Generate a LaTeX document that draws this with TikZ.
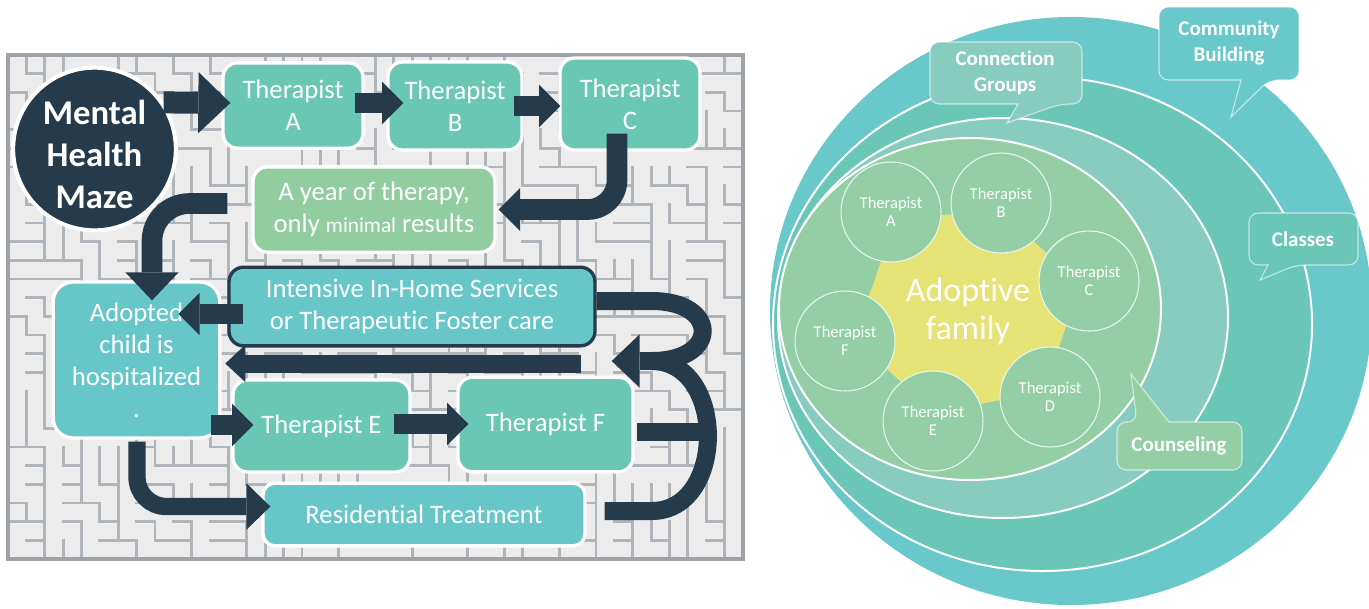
\documentclass[tikz,border=0pt]{standalone}
\usepackage{fontspec}
\setmainfont{Carlito}[Ligatures=NoCommon]
\usetikzlibrary{arrows.meta,calc}
\definecolor{navy}{RGB}{37,58,74}
\definecolor{mazebg}{RGB}{236,236,236}
\definecolor{mazegray}{RGB}{176,181,188}
\definecolor{therteal}{RGB}{105,199,179}
\definecolor{boxcyan}{RGB}{103,199,200}
\definecolor{yeargreen}{RGB}{146,205,159}
\definecolor{ringout}{RGB}{104,200,202}
\definecolor{ringtwo}{RGB}{106,198,182}
\definecolor{ringmid}{RGB}{136,203,191}
\definecolor{ringin}{RGB}{147,206,165}
\definecolor{famyellow}{RGB}{230,227,118}

\begin{document}
\begin{tikzpicture}[x=0.75pt, y=-0.75pt,
  mazewall/.style={draw=mazegray, line width=2.2pt, line cap=rect},
  leftbox/.style={draw=white, line width=2.5pt, rounded corners=11pt, text=white, align=center, inner sep=0pt, font=\fontsize{20}{24}\selectfont},
  therbox/.style={leftbox, fill=therteal},
  cyanbox/.style={leftbox, fill=boxcyan},
  flow/.style={draw=navy, line width=15.5pt, -{Triangle[length=16pt, width=32pt, line width=0pt]}},
  bigflow/.style={flow, line width=16.5pt, -{Triangle[length=24pt, width=46pt, line width=0pt]}},
  midflow/.style={flow, -{Triangle[length=21pt, width=40pt, line width=0pt]}},
  trunk/.style={draw=navy, line width=13.5pt},
  ring/.style={draw=white, line width=1.5pt},
  famcircle/.style={circle, draw=white!80!ringin, line width=0.8pt, fill=ringin, minimum size=75pt, inner sep=0pt, text=white, align=center, font=\fontsize{12.4}{13.5}\selectfont},
  bubble/.style={draw=white, draw opacity=0.6, line width=0.8pt, rounded corners=7pt},
  bubbletext/.style={text=white, align=center, font=\bfseries\fontsize{15.7}{19.5}\selectfont}
]
\useasboundingbox (0,0) rectangle (1369,608);

% Maze background
\fill[mazebg] (8,55) rectangle (743,559);
\pgfmathsetseed{12}
\foreach \i in {0,...,39} {
  \foreach \j in {0,...,26} {
    \pgfmathrandominteger{\mz}{0}{1}
    \ifnum\mz=0
      \ifnum\j>0 \draw[mazewall] ({8+18.375*\i},{55+18.667*\j}) -- ++(18.375,0); \fi
    \else
      \ifnum\i>0 \draw[mazewall] ({8+18.375*\i},{55+18.667*\j}) -- ++(0,18.667); \fi
    \fi
  }
}
\draw[draw=mazegray!90!black, line width=3pt] (8,55) rectangle (743,559);

% Maze boxes
\node[circle, fill=navy, draw=white, line width=3pt, minimum size=122pt, inner sep=0pt] (mhm) at (94.5,149) {};
\node[text=white, align=center, font=\bfseries\fontsize{26}{31.5}\selectfont] (mhmtext) at (94.5,154) {Mental\\Health\\Maze};
\node[therbox, minimum width=105pt, minimum height=64pt] (tA) at (293,105.5) {Therapist\\A};
\node[therbox, minimum width=100.5pt, minimum height=66pt] (tB) at (455,106) {Therapist\\B};
\node[therbox, minimum width=105pt, minimum height=69pt] (tC) at (630,104) {Therapist\\C};
\node[leftbox, fill=yeargreen, minimum width=181.5pt, minimum height=64pt] (year) at (374,209.5) {A year of therapy,\\only {\fontsize{16}{24}\selectfont minimal} results};
\node[cyanbox, rounded corners=15pt, minimum width=125pt, minimum height=117pt] (adopted) at (136.5,360) {Adopted\\child is\\hospitalized\\.};
\node[cyanbox, draw=navy, minimum width=274.5pt, minimum height=59pt] (intensive) at (412,306.5) {Intensive In-Home Services\\or Therapeutic Foster care};
\node[therbox, minimum width=132.75pt, minimum height=69pt] (tE) at (321.5,426) {Therapist E};
\node[therbox, minimum width=131.25pt, minimum height=71pt] (tF) at (545.5,424.5) {Therapist F};
\node[cyanbox, rounded corners=9pt, minimum width=241.5pt, minimum height=47pt] (resid) at (424,514.5) {Residential Treatment};

% Top row arrows
\draw[bigflow] (mhm.34) -- ($(tA.west)+(9,-2.5)$);
\draw[flow] ($(tA.east)+(-10,-2.5)$) -- ($(tB.west)+(17,-3)$);
\draw[flow] ($(tB.east)+(-10,0)$) -- ($(tC.west)+(2,2)$);

% Down and back
\coordinate (cdrop) at ($(tC.south)+(-13,-18)$);
\draw[flow, rounded corners=22pt] (cdrop) -- (cdrop |- year.east) -- ($(year.east)+(2,0)$);
\coordinate (ystart) at ($(year.west)+(-24,-6)$);
\coordinate (aTop) at ($(adopted.north)+(15.5,20)$);
\draw[midflow, rounded corners=28pt] (ystart) -- (ystart -| aTop) -- (aTop);

% Into the hospital
\draw[flow] ($(intensive.west)+(16,7.5)$) -- ($(intensive.west)+(-49,7.5)$);
\draw[flow, line width=13.5pt, -{Triangle[length=15pt, width=28pt, line width=0pt]}] ($(intensive.south east)+(-16,16)$) -- ($(intensive.south west)+(-2,16)$);

% B-shaped return
\coordinate (bjoin) at ($(intensive.east)+(55,54.5)$);
\draw[trunk] ($(intensive.east)+(0,-5.5)$) -- ++(55,0) .. controls +(68,0) and +(68,0) .. (bjoin);
\draw[trunk] ($(resid.east)+(18,-3.5)$) -- ++(47,0) .. controls +(75,0) and +(75,0) .. (bjoin);
\draw[trunk] ($(tF.east)+(2,7.5)$) -- ++(68,0);
\draw[midflow, line width=13.5pt] (bjoin) -- ($(bjoin)+(-40,0)$);

% Out of the hospital
\draw[flow] ($(tE.west)+(-20,-1)$) -- ($(tE.west)+(22,-1)$);
\draw[flow] ($(tE.east)+(-18,-2)$) -- ($(tF.west)+(12,-0.5)$);
\coordinate (adrop) at ($(adopted.south)+(0.5,2)$);
\coordinate (rTip) at ($(resid.west)+(9,-8)$);
\draw[flow, line width=13pt, -{Triangle[length=18pt, width=35pt, line width=0pt]}, rounded corners=22pt] (adrop) -- (adrop |- rTip) -- (rTip);

% Rings
\fill[ringout] (1071,311) ellipse [x radius=301, y radius=294];
\filldraw[ring, fill=ringtwo] (1042.5,324) ellipse [x radius=269.5, y radius=247];
\filldraw[ring, fill=ringmid] (1003,318) ellipse [x radius=225, y radius=200];
\filldraw[ring, fill=ringin] (970,309) ellipse [x radius=191, y radius=171];

% Family and therapists
\coordinate (fam) at (968,310);
\coordinate (cA) at (891,212);
\coordinate (cB) at (1001,203);
\coordinate (cC) at (1089,281);
\coordinate (cD) at (1050,397);
\coordinate (cE) at (933,421);
\coordinate (cF) at (845,341);
\fill[famyellow] ($(fam)!0.93!(cA)$) -- ($(fam)!0.93!(cB)$) -- ($(fam)!0.93!(cC)$) -- ($(fam)!0.93!(cD)$) -- ($(fam)!0.93!(cE)$) -- ($(fam)!0.93!(cF)$) -- cycle;
\foreach \t in {A,B,C,D,E,F}
  \node[famcircle] (th\t) at (c\t) {Therapist\\\t};
\node[text=white, align=center, font=\fontsize{25.5}{28.5}\selectfont] (famlabel) at (968,311) {Adoptive\\family};

% Callouts
\filldraw[bubble, fill=ringmid] (930,73) -- (930,42) -- (1082,42) -- (1082,104) -- (1060,104) [sharp corners] -- (1007,123) -- (1018,104) [rounded corners=7pt] -- (930,104) -- cycle;
\node[bubbletext] (conn) at (1005,73) {Connection\\Groups};
\filldraw[bubble, fill=ringout] (1159,44) -- (1159,7) -- (1299,7) -- (1299,80) -- (1269,80) [sharp corners] -- (1231,117) -- (1241,80) [rounded corners=7pt] -- (1159,80) -- cycle;
\node[bubbletext] (comm) at (1229,43) {Community\\Building};
\filldraw[bubble, fill=ringtwo] (1249,239) -- (1249,213) -- (1358,213) -- (1358,265) -- (1296,265) [sharp corners] -- (1260,280) -- (1268,265) [rounded corners=7pt] -- (1249,265) -- cycle;
\node[bubbletext] (classes) at (1303,239) {Classes};
\filldraw[bubble, fill=ringin] (1117,446) -- (1117,422) -- (1137,422) [sharp corners] -- (1131,374) -- (1169,422) [rounded corners=7pt] -- (1242,422) -- (1242,470) -- (1117,470) -- cycle;
\node[bubbletext] (couns) at (1179,446) {Counseling};
\end{tikzpicture}
\end{document}
